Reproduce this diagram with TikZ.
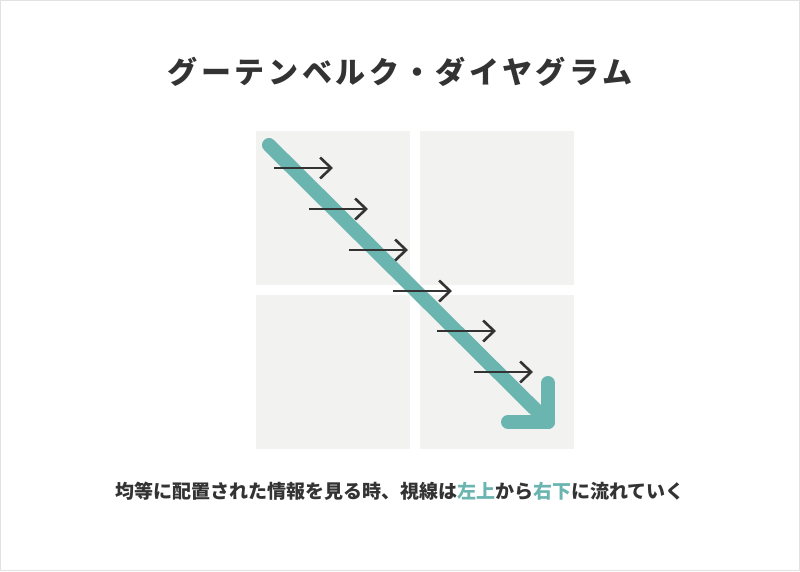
\documentclass[tikz,border=0pt]{standalone}
\usepackage{fontspec}
\usetikzlibrary{positioning,arrows.meta}
\setmainfont{Noto Sans CJK JP}
\newfontfamily\jpfont{Noto Sans CJK JP}
\definecolor{ink}{HTML}{333333}
\definecolor{teal}{HTML}{6BB5B1}
\definecolor{cellgray}{HTML}{F2F2F0}
\definecolor{framegray}{HTML}{E2E2E2}
\begin{document}
\begin{tikzpicture}[x=1pt, y=-1pt,
    cell/.style={fill=cellgray, minimum size=154pt, inner sep=0pt, outer sep=0pt},
    gaze/.style={draw=ink, line width=2.6pt, -{Straight Barb[length=11pt, width=21pt]}},
    flow/.style={draw=teal, line width=14pt, line cap=round, line join=round}]
      \useasboundingbox (0,0) rectangle (800,571);
      \draw[framegray, line width=1pt] (0.5,0.5) rectangle (799.5,570.5);
      % Define nodes
      \node[font=\jpfont\bfseries\fontsize{30}{36}\selectfont\addfontfeature{LetterSpace=12}, text=ink] (title) at (400,72) {グーテンベルク・ダイヤグラム};
      \node[cell] (tl) at (333,208) {};
      \node[cell, right=10pt of tl] (tr) {};
      \node[cell, below=10pt of tl] (bl) {};
      \node[cell, below=10pt of tr] (br) {};
      \node[font=\jpfont\bfseries\fontsize{19}{23}\selectfont, text=ink] (caption) at (400,491)
        {均等に配置された情報を見る時、視線は\textcolor{teal}{左上}から\textcolor{teal}{右下}に流れていく};
      % Teal diagonal
      \coordinate (start) at (269,145);
      \coordinate (tip) at (548,422);
      \draw[flow] (start) -- (tip);
      \draw[flow] (548,383) -- (tip) -- (508,422);
      % Reading arrows
      \foreach \i/\x/\y in {1/274/168, 2/309/209, 3/349/250, 4/393/291, 5/437/331, 6/474/372} {
        \coordinate (g\i a) at (\x,\y);
        \coordinate (g\i b) at (\x+59,\y);
        \draw[gaze] (g\i a) -- (g\i b);
      }
\end{tikzpicture}
\end{document}
